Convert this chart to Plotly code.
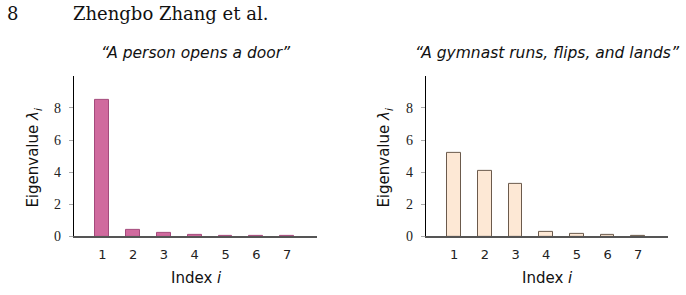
import plotly.graph_objects as go

indices = [1, 2, 3, 4, 5, 6, 7]
door_vals = [8.5, 0.4, 0.2, 0.1, 0.05, 0.03, 0.03]
gym_vals = [5.2, 4.1, 3.3, 0.3, 0.15, 0.08, 0.03]
yticks = [0, 2, 4, 6, 8]
titles = ["\u201cA person opens a door\u201d", "\u201cA gymnast runs, flips, and lands\u201d"]

W, H = 686, 295
SERIF = "Liberation Serif"
SERIF2 = "DejaVu Serif"
SANS = "DejaVu Sans"

fig = go.Figure()
fig.add_trace(go.Bar(x=indices, y=door_vals, width=0.45, xaxis="x", yaxis="y",
                     marker=dict(color="#D06A9E", line=dict(color="#A44A7C", width=1))))
fig.add_trace(go.Bar(x=indices, y=gym_vals, width=0.45, xaxis="x2", yaxis="y2",
                     marker=dict(color="#FDE8D5", line=dict(color="#6B5A4C", width=1))))

def px_x(p):
    return p / W

def px_y(p):
    return 1 - p / H

dom_left = [px_x(74), px_x(317)]
dom_right = [px_x(426), px_x(668)]
dom_y = [px_y(243), px_y(78)]

xcommon = dict(range=[0.08, 7.97], tickvals=indices, showgrid=False, zeroline=False,
               showline=True, linecolor="#555555", linewidth=1.5, ticks="",
               ticklabelstandoff=5,
               tickfont=dict(family=SANS, size=13, color="#222"), fixedrange=True)
ycommon = dict(range=[0, 10], tickvals=yticks, showgrid=False, zeroline=False,
               showline=True, linecolor="#000000", linewidth=1.3, ticks="outside",
               ticklen=4, tickcolor="#aaaaaa", tickwidth=1, ticklabelstandoff=5,
               tickfont=dict(family=SERIF, size=14, color="#222"), fixedrange=True)

fig.update_layout(
    width=W, height=H, margin=dict(l=0, r=0, t=0, b=0),
    paper_bgcolor="white", plot_bgcolor="white", showlegend=False, bargap=0,
    xaxis=dict(domain=dom_left, anchor="y", **xcommon),
    yaxis=dict(domain=dom_y, anchor="x", **ycommon),
    xaxis2=dict(domain=dom_right, anchor="y2", **xcommon),
    yaxis2=dict(domain=dom_y, anchor="x2", **ycommon),
)

ann = []
# header
ann.append(dict(text="8", x=px_x(5), y=px_y(14), xanchor="left", yanchor="middle",
                font=dict(family=SERIF2, size=18, color="#111")))
ann.append(dict(text="Zhengbo Zhang et al.", x=px_x(71), y=px_y(14), xanchor="left", yanchor="middle",
                font=dict(family=SERIF2, size=18, color="#111")))
for i, (cx, ytx) in enumerate([(196, 34), (547, 385)]):
    ann.append(dict(text="<i>" + titles[i] + "</i>", x=px_x(cx), y=px_y(54), xanchor="center", yanchor="middle",
                    font=dict(family=SANS, size=15.5, color="#111")))
    ann.append(dict(text="Index <i>i</i>",
                    x=px_x(cx), y=px_y(286), xanchor="center", yanchor="middle",
                    font=dict(family=SANS, size=15, color="#111")))
    ann.append(dict(text="Eigenvalue <i>λ<sub>i</sub></i>",
                    x=px_x(ytx), y=px_y(162), xanchor="center", yanchor="middle", textangle=-90,
                    font=dict(family=SANS, size=15, color="#111")))
for a in ann:
    a.update(xref="paper", yref="paper", showarrow=False)
fig.update_layout(annotations=ann)

fig.write_html("out.html")
